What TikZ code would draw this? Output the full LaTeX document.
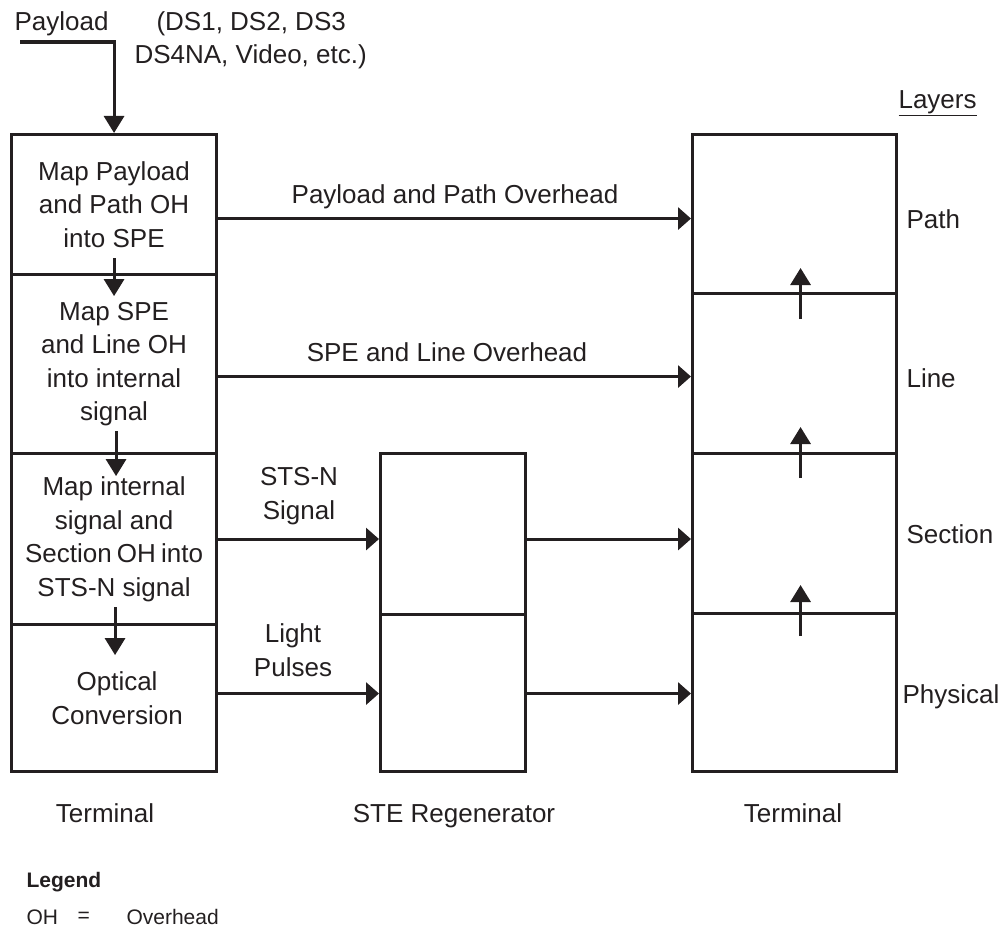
\documentclass[tikz,border=0pt]{standalone}
\usepackage{fontspec}
\setmainfont{Liberation Sans}
\usetikzlibrary{arrows.meta}
\definecolor{ink}{HTML}{231F20}
\begin{document}
\begin{tikzpicture}[x=1pt,y=-1pt, line width=3.1pt, draw=ink, text=ink,
  lbl/.style={font=\fontsize{26}{33.5}\selectfont, align=center, inner sep=0pt},
  small/.style={font=\fontsize{21}{25}\selectfont, inner sep=0pt, anchor=west},
  cell/.style={draw, rectangle, anchor=north west, inner sep=0pt, font=\fontsize{26}{33.5}\selectfont, align=center},
  harr/.style={-{Triangle[length=13pt,width=22pt]}},
  varr/.style={-{Triangle[length=17pt,width=20pt]}}]
\useasboundingbox (0,0) rectangle (1003,933);
% left terminal
\node[cell, minimum width=205pt, minimum height=140pt] (L1) at (10,133) {Map Payload\\and Path OH\\into SPE};
\node[cell, minimum width=205pt, minimum height=179pt] (L2) at (10,273) {Map SPE\\and Line OH\\into internal\\signal};
\node[cell, minimum width=205pt, minimum height=171pt] (L3) at (10,452) {Map internal\\signal and\\Section\hspace{-2pt} OH\hspace{-2pt} into\\STS-N signal};
\node[cell, minimum width=205pt, minimum height=147pt] (L4) at (10,623) {\hspace{6pt}Optical\\\hspace{6pt}Conversion};
% regenerator
\node[cell, minimum width=145pt, minimum height=161pt] (G1) at (379,452) {};
\node[cell, minimum width=145pt, minimum height=157pt] (G2) at (379,613) {};
% right terminal
\node[cell, minimum width=204pt, minimum height=159pt] (R1) at (691,133) {};
\node[cell, minimum width=204pt, minimum height=160pt] (R2) at (691,292) {};
\node[cell, minimum width=204pt, minimum height=160pt] (R3) at (691,452) {};
\node[cell, minimum width=204pt, minimum height=158pt] (R4) at (691,612) {};
% top input
\node[lbl, anchor=west] (pl) at (13,24) {Payload};
\node[lbl, anchor=west] (ds1) at (155,24) {(DS1, DS2, DS3};
\node[lbl, anchor=west] (ds2) at (133,57) {DS4NA, Video, etc.)};
\coordinate (pin) at (20,42);
\draw[varr] (pin) -- (pin -| L1.north) -- (L1.north);
% left down arrows
\draw[varr] ([yshift=18pt]L1.south) -- ([yshift=-20pt]L1.south);
\draw[varr] ([xshift=2pt,yshift=24pt]L2.south) -- ([xshift=2pt,yshift=-21pt]L2.south);
\draw[varr] ([xshift=1pt,yshift=19pt]L3.south) -- ([xshift=1pt,yshift=-29pt]L3.south);
% right up arrows
\draw[varr] ([xshift=6pt,yshift=-27pt]R2.north) -- ([xshift=6pt,yshift=24pt]R2.north);
\draw[varr] ([xshift=6pt,yshift=-26pt]R3.north) -- ([xshift=6pt,yshift=25pt]R3.north);
\draw[varr] ([xshift=6pt,yshift=-24pt]R4.north) -- ([xshift=6pt,yshift=27pt]R4.north);
% horizontal arrows
\coordinate (h1) at ([yshift=-14pt]L1.east);
\coordinate (h2) at ([yshift=-12.5pt]L2.east);
\coordinate (h3) at (L3.east);
\coordinate (h4) at ([yshift=4.5pt]L4.east);
\draw[harr] (h1) -- (h1 -| R1.west);
\draw[harr] (h2) -- (h2 -| R2.west);
\draw[harr] (h3) -- (h3 -| G1.west);
\draw[harr] (h4) -- (h4 -| G2.west);
\draw[harr] (h3 -| G1.east) -- (h3 -| R3.west);
\draw[harr] (h4 -| G2.east) -- (h4 -| R4.west);
% arrow labels
\node[lbl] (tp) at (455,197) {Payload and Path Overhead};
\node[lbl] (tl) at (447,352) {SPE and Line Overhead};
\node[lbl] (ts) at (299,496) {STS-N\\Signal};
\node[lbl] (tlp) at (293,650) {Light\\Pulses};
% layers
\node[lbl, anchor=west] (lay) at (897,103) {\underline{Layers}};
\node[lbl, anchor=west] (lpath) at (905,219) {Path};
\node[lbl, anchor=west] (lline) at (905,378) {Line};
\node[lbl, anchor=west] (lsec) at (905,534) {Section};
\node[lbl, anchor=west] (lphy) at (901,697) {Physical};
% bottom captions
\node[lbl] (c1) at (105,813) {Terminal};
\node[lbl] (c2) at (454,816) {STE Regenerator};
\node[lbl] (c3) at (793,813) {Terminal};
% legend
\node[small, font=\bfseries\fontsize{21}{25}\selectfont] (lg) at (25,882) {Legend};
\node[small] (lg1) at (25,917) {OH};
\node[small] (lg2) at (76,917) {=};
\node[small] (lg3) at (125,917) {Overhead};
\end{tikzpicture}
\end{document}
